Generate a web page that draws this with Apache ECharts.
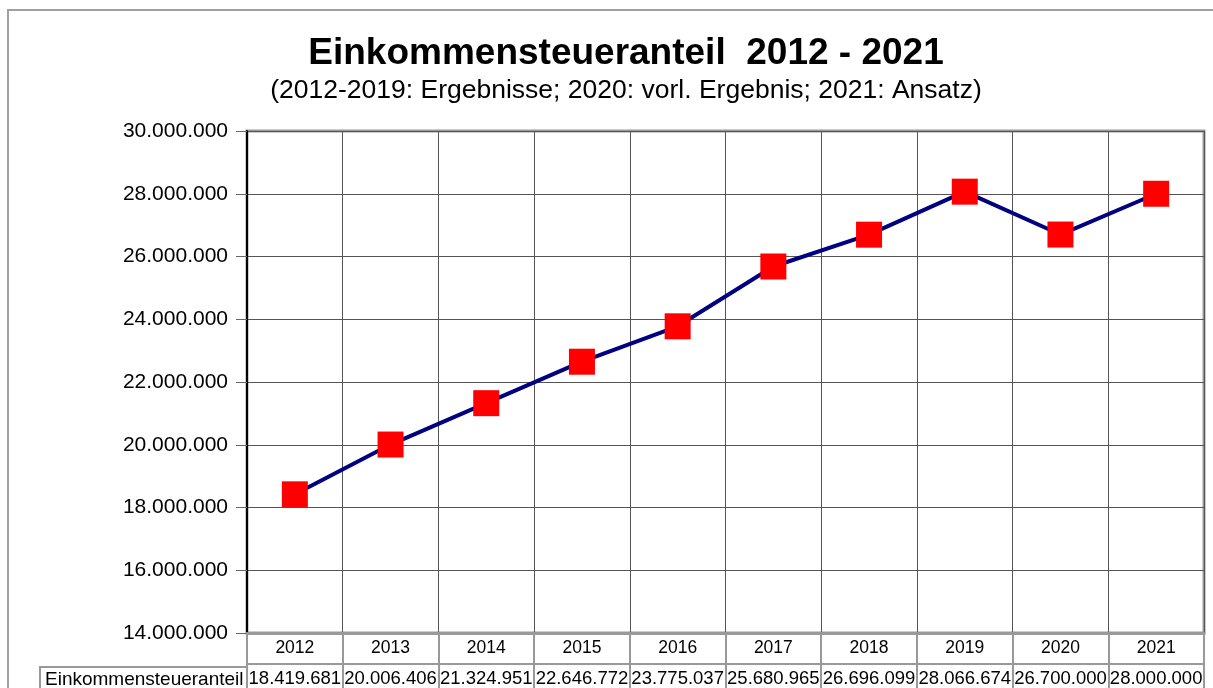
<!DOCTYPE html>
<html>
<head>
<meta charset="utf-8">
<script src="https://cdn.jsdelivr.net/npm/echarts@6/dist/echarts.min.js"></script>
<style>
  html, body { margin: 0; padding: 0; background: #fff; }
  #chart { width: 1213px; height: 688px; }
</style>
</head>
<body>
<div id="chart"></div>
<script>
const years = ["2012","2013","2014","2015","2016","2017","2018","2019","2020","2021"];
const steueranteil = [18419681,20006406,21324951,22646772,23775037,25680965,26696099,28066674,26700000,28000000];
const yTicks = { min: 14000000, max: 30000000, step: 2000000 };
const rowLabel = "Einkommensteueranteil";

const fmt = (n) => String(Math.round(n)).replace(/\B(?=(\d{3})+(?!\d))/g, '.');

const chart = echarts.init(document.getElementById('chart'));

const option = {
  animation: false,
  backgroundColor: '#fff',
  textStyle: { fontFamily: 'Liberation Sans, Arial, sans-serif', color: '#000' },
  title: [
    {
      text: 'Einkommensteueranteil  2012 - 2021',
      left: 621, top: 30, textAlign: 'center',
      textStyle: { fontSize: 37, fontWeight: 'bold', color: '#000', fontFamily: 'Liberation Sans, Arial' }
    },
    {
      text: '(2012-2019: Ergebnisse; 2020: vorl. Ergebnis; 2021: Ansatz)',
      left: 621, top: 72, textAlign: 'center',
      textStyle: { fontSize: 26.5, fontWeight: 'normal', color: '#000', fontFamily: 'Liberation Sans, Arial' }
    }
  ],
  grid: {
    left: 247, right: 9, top: 131, bottom: 52,
    show: true, borderColor: '#999', borderWidth: 3, containLabel: false
  },
  xAxis: [
    {
      type: 'category',
      data: years,
      boundaryGap: true,
      axisLine: { lineStyle: { color: '#999', width: 3 } },
      axisTick: { show: true, interval: 0, length: 31, lineStyle: { color: '#999', width: 2 } },
      axisLabel: { interval: 0, fontSize: 17.5, color: '#000', margin: 6 },
      splitLine: { show: true, interval: 0, lineStyle: { color: '#555', width: 1 } }
    },
    {
      type: 'category',
      data: years,
      position: 'bottom',
      offset: 31,
      boundaryGap: true,
      axisLine: { show: true, lineStyle: { color: '#999', width: 2 } },
      axisTick: { show: true, interval: 0, length: 30, lineStyle: { color: '#999', width: 2 } },
      axisLabel: {
        interval: 0, fontSize: 18.5, color: '#000', margin: 5,
        formatter: (v, i) => fmt(steueranteil[i])
      },
      splitLine: { show: false }
    }
  ],
  yAxis: {
    type: 'value',
    min: yTicks.min, max: yTicks.max, interval: yTicks.step,
    axisLine: { show: true, lineStyle: { color: '#000', width: 2 } },
    axisTick: { show: true, length: 11, lineStyle: { color: '#666' } },
    axisLabel: { fontSize: 21, color: '#000', margin: 19, formatter: (v) => fmt(v) },
    splitLine: { show: true, lineStyle: { color: '#555', width: 1 } }
  },
  series: [
    {
      type: 'line',
      data: steueranteil,
      xAxisIndex: 0,
      symbol: 'rect',
      symbolSize: 26,
      showAllSymbol: true,
      lineStyle: { color: '#000080', width: 4 },
      itemStyle: { color: '#ff0000', borderWidth: 0 },
      z: 5
    }
  ],
  graphic: [
    {
      type: 'rect', z: 1,
      shape: { x: 8, y: 10, width: 1300, height: 800 },
      style: { fill: 'none', stroke: '#a0a0a0', lineWidth: 2 }
    },
    {
      type: 'rect', z: 2,
      shape: { x: 40, y: 667, width: 207, height: 40 },
      style: { fill: 'none', stroke: '#999', lineWidth: 2 }
    },
    {
      type: 'text', z: 3,
      x: 45, y: 680,
      style: {
        text: rowLabel, fontSize: 19, fill: '#000',
        fontFamily: 'Liberation Sans, Arial', verticalAlign: 'middle', align: 'left'
      }
    }
  ]
};

chart.setOption(option);
</script>
</body>
</html>
